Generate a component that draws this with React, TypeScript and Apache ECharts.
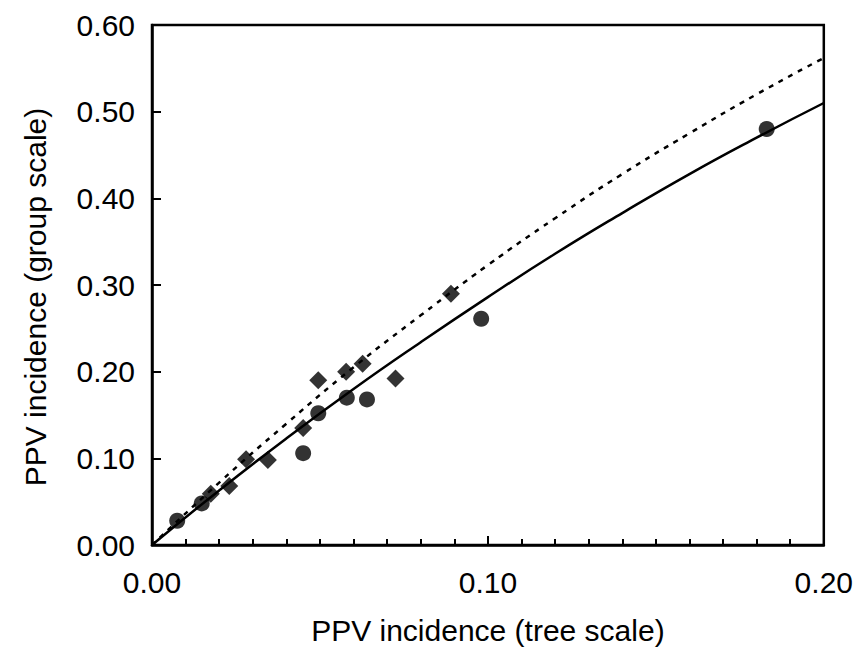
import React, { useEffect, useRef } from "react";
import * as echarts from "echarts";

const xTicks = [0, 0.1, 0.2];
const yTicks = [0, 0.1, 0.2, 0.3, 0.4, 0.5, 0.6];

const circlePoints: [number, number][] = [
  [0.0075, 0.028],
  [0.0148, 0.048],
  [0.045, 0.106],
  [0.0495, 0.152],
  [0.058, 0.17],
  [0.064, 0.168],
  [0.098, 0.261],
  [0.183, 0.48],
];

const diamondPoints: [number, number][] = [
  [0.0175, 0.059],
  [0.023, 0.068],
  [0.028, 0.099],
  [0.0345, 0.098],
  [0.045, 0.135],
  [0.0495, 0.19],
  [0.0578, 0.2],
  [0.0627, 0.209],
  [0.0725, 0.192],
  [0.089, 0.29],
];

const curveX = [0, 0.02, 0.04, 0.06, 0.08, 0.1, 0.12, 0.14, 0.16, 0.18, 0.2];
const solidY = [0, 0.063, 0.123, 0.18, 0.234, 0.286, 0.336, 0.383, 0.428, 0.47, 0.51];
const dashedY = [0, 0.072, 0.14, 0.205, 0.265, 0.323, 0.377, 0.428, 0.475, 0.52, 0.562];

const FONT = "Liberation Sans, Arial, sans-serif";
const FS = 30;

export default function App() {
  const ref = useRef<HTMLDivElement>(null);
  useEffect(() => {
    if (!ref.current) return;
    const chart = echarts.init(ref.current, null, { renderer: "svg" });
    chart.setOption({
      animation: false,
      backgroundColor: "#fff",
      grid: {
        left: 152,
        right: 30,
        top: 25,
        bottom: 119,
        show: true,
        borderColor: "#000",
        borderWidth: 2.5,
      },
      xAxis: {
        type: "value",
        min: 0,
        max: 0.2,
        interval: 0.1,
        name: "PPV incidence (tree scale)",
        nameLocation: "middle",
        nameGap: 70,
        nameTextStyle: { fontFamily: FONT, fontSize: FS, color: "#000" },
        axisLine: { show: true, onZero: false, lineStyle: { color: "#000", width: 2.5 } },
        axisTick: { show: true, inside: true, length: 9, lineStyle: { color: "#000", width: 2 } },
        minorTick: { show: true, splitNumber: 10, length: 6, lineStyle: { color: "#000", width: 2 } },
        splitLine: { show: false },
        axisLabel: {
          margin: 22,
          fontFamily: FONT,
          fontSize: FS,
          color: "#000",
          formatter: (v: number) => (xTicks.some((t) => Math.abs(t - v) < 1e-9) ? v.toFixed(2) : ""),
        },
      },
      yAxis: {
        type: "value",
        min: 0,
        max: 0.6,
        interval: 0.1,
        name: "PPV incidence (group scale)",
        nameLocation: "middle",
        nameGap: 102,
        nameTextStyle: { fontFamily: FONT, fontSize: FS, color: "#000", padding: [0, 24, 0, 0] },
        axisLine: { show: true, onZero: false, lineStyle: { color: "#000", width: 2.5 } },
        axisTick: { show: true, inside: true, length: 9, lineStyle: { color: "#000", width: 2 } },
        splitLine: { show: false },
        axisLabel: {
          margin: 17,
          fontFamily: FONT,
          fontSize: FS,
          color: "#000",
          formatter: (v: number) => (yTicks.some((t) => Math.abs(t - v) < 1e-9) ? v.toFixed(2) : ""),
        },
      },
      series: [
        {
          type: "line",
          data: curveX.map((x, i) => [x, solidY[i]]),
          smooth: true,
          showSymbol: false,
          symbol: "none",
          lineStyle: { color: "#000", width: 2.5 },
          z: 2,
        },
        {
          type: "line",
          data: curveX.map((x, i) => [x, dashedY[i]]),
          smooth: true,
          showSymbol: false,
          symbol: "none",
          lineStyle: { color: "#000", width: 2.5, type: [5, 6] },
          z: 2,
        },
        {
          type: "scatter",
          data: circlePoints,
          symbol: "circle",
          symbolSize: 16,
          itemStyle: { color: "#000" },
          z: 3,
        },
        {
          type: "scatter",
          data: diamondPoints,
          symbol: "diamond",
          symbolSize: 18,
          itemStyle: { color: "#000" },
          z: 3,
        },
      ],
    });
    return () => chart.dispose();
  }, []);
  return (
    <div
      ref={ref}
      style={{ position: "fixed", left: 0, top: 0, width: 856, height: 664, background: "#fff" }}
    />
  );
}
